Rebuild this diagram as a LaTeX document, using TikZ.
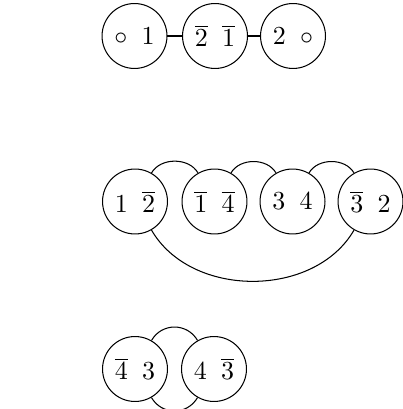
\documentclass[tikz,border=0pt]{standalone}
\begin{document}
\begin{tikzpicture}[x=0.385pt,y=-0.385pt,
  ring/.style={draw,circle,minimum size=25pt,inner sep=0pt,line width=0.4pt},
  link/.style={line width=0.4pt}]
\useasboundingbox (0,0) rectangle (402,409);
\newcommand{\gp}{\hspace{5.5pt}}
% top row
\node[ring] (t1) at (134.5,36) {$\circ\gp 1$};
\node[ring] (t2) at (215,36) {$\overline{2}\gp\overline{1}$};
\node[ring] (t3) at (293,36) {$2\gp\circ$};
\draw[link] (t1) -- (t2);
\draw[link] (t2) -- (t3);
% middle row
\node[ring] (a) at (135,201.5) {$1\gp\overline{2}$};
\node[ring] (b) at (214.5,201.5) {$\overline{1}\gp\overline{4}$};
\node[ring] (c) at (292.5,201.5) {$3\gp 4$};
\node[ring] (d) at (370.5,201.5) {$\overline{3}\gp 2$};
\draw[link] (a.60) to[out=60,in=120] (b.120);
\draw[link] (b.60) to[out=60,in=120] (c.120);
\draw[link] (c.60) to[out=60,in=120] (d.120);
\draw[link] (a.-60) to[out=-60,in=-120] (d.-120);
% bottom row
\node[ring] (e) at (135,369) {$\overline{4}\gp 3$};
\node[ring] (f) at (214,369) {$4\gp\overline{3}$};
\draw[link] (e.60) to[out=60,in=120,looseness=1.15] (f.120);
\draw[link] (e.-60) to[out=-60,in=-120,looseness=1.15] (f.-120);
\end{tikzpicture}
\end{document}
